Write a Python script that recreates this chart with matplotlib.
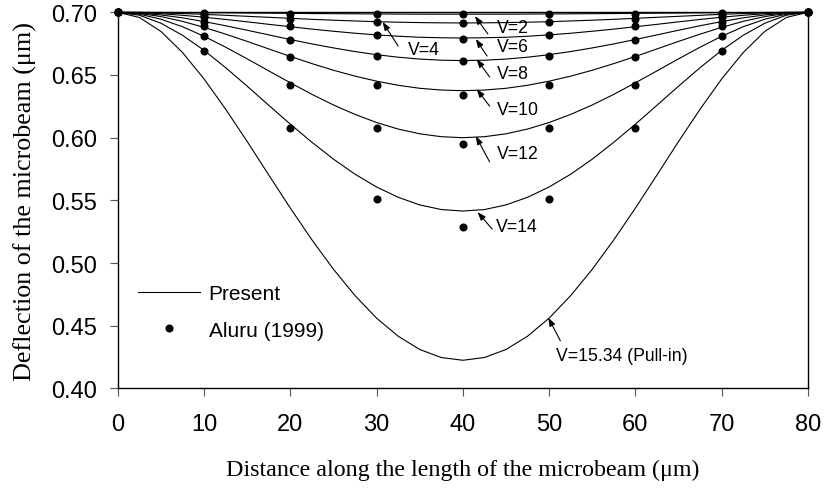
import matplotlib
matplotlib.use("Agg")
import matplotlib.pyplot as plt
from matplotlib.lines import Line2D

# position along the beam (um) for the computed curves
x_line = [0, 2.5, 5, 7.5, 10, 12.5, 15, 17.5, 20, 22.5, 25, 27.5, 30, 32.5, 35, 37.5, 40,
          42.5, 45, 47.5, 50, 52.5, 55, 57.5, 60, 62.5, 65, 67.5, 70, 72.5, 75, 77.5, 80]

# "Present" curves, deflection (um)
v2 = [0.7000, 0.7000, 0.6999, 0.6998, 0.6997, 0.6996, 0.6994, 0.6993, 0.6992, 0.6990, 0.6989,
      0.6988, 0.6987, 0.6986, 0.6985, 0.6985, 0.6985, 0.6985, 0.6985, 0.6986, 0.6987, 0.6988,
      0.6989, 0.6990, 0.6992, 0.6993, 0.6994, 0.6996, 0.6997, 0.6998, 0.6999, 0.7000, 0.7000]
v4 = [0.7000, 0.6999, 0.6995, 0.6990, 0.6984, 0.6976, 0.6968, 0.6960, 0.6952, 0.6944, 0.6937,
      0.6931, 0.6925, 0.6921, 0.6918, 0.6916, 0.6915, 0.6916, 0.6918, 0.6921, 0.6925, 0.6931,
      0.6937, 0.6944, 0.6952, 0.6960, 0.6968, 0.6976, 0.6984, 0.6990, 0.6995, 0.6999, 0.7000]
v6 = [0.7000, 0.6997, 0.6989, 0.6976, 0.6961, 0.6943, 0.6924, 0.6904, 0.6885, 0.6866, 0.6849,
      0.6833, 0.6820, 0.6809, 0.6801, 0.6797, 0.6795, 0.6797, 0.6801, 0.6809, 0.6820, 0.6833,
      0.6849, 0.6866, 0.6885, 0.6904, 0.6924, 0.6943, 0.6961, 0.6976, 0.6989, 0.6997, 0.7000]
v8 = [0.7000, 0.6994, 0.6979, 0.6956, 0.6926, 0.6893, 0.6857, 0.6820, 0.6783, 0.6748, 0.6716,
      0.6687, 0.6662, 0.6642, 0.6627, 0.6618, 0.6615, 0.6618, 0.6627, 0.6642, 0.6662, 0.6687,
      0.6716, 0.6748, 0.6783, 0.6820, 0.6857, 0.6893, 0.6926, 0.6956, 0.6979, 0.6994, 0.7000]
v10 = [0.7000, 0.6991, 0.6966, 0.6928, 0.6880, 0.6826, 0.6768, 0.6708, 0.6648, 0.6591, 0.6538,
       0.6491, 0.6451, 0.6418, 0.6394, 0.6380, 0.6375, 0.6380, 0.6394, 0.6418, 0.6451, 0.6491,
       0.6538, 0.6591, 0.6648, 0.6708, 0.6768, 0.6826, 0.6880, 0.6928, 0.6966, 0.6991, 0.7000]
v12 = [0.7000, 0.6985, 0.6945, 0.6885, 0.6809, 0.6722, 0.6629, 0.6533, 0.6438, 0.6346, 0.6261,
       0.6186, 0.6121, 0.6069, 0.6031, 0.6008, 0.6000, 0.6008, 0.6031, 0.6069, 0.6121, 0.6186,
       0.6261, 0.6346, 0.6438, 0.6533, 0.6629, 0.6722, 0.6809, 0.6885, 0.6945, 0.6985, 0.7000]
v14 = [0.7000, 0.6977, 0.6913, 0.6817, 0.6697, 0.6559, 0.6411, 0.6259, 0.6108, 0.5964, 0.5829,
       0.5709, 0.5607, 0.5525, 0.5464, 0.5427, 0.5415, 0.5427, 0.5464, 0.5525, 0.5607, 0.5709,
       0.5829, 0.5964, 0.6108, 0.6259, 0.6411, 0.6559, 0.6697, 0.6817, 0.6913, 0.6977, 0.7000]
v_pull = [0.7000, 0.6959, 0.6848, 0.6680, 0.6469, 0.6228, 0.5970, 0.5703, 0.5439, 0.5186, 0.4951,
          0.4741, 0.4561, 0.4417, 0.4311, 0.4247, 0.4225, 0.4247, 0.4311, 0.4417, 0.4561, 0.4741,
          0.4951, 0.5186, 0.5439, 0.5703, 0.5970, 0.6228, 0.6469, 0.6680, 0.6848, 0.6959, 0.7000]

# Aluru (1999) points
x_pts = [0, 10, 20, 30, 40, 50, 60, 70, 80]
a2 = [0.700, 0.6995, 0.699, 0.699, 0.6985, 0.699, 0.699, 0.6995, 0.700]
a4 = [0.700, 0.698, 0.695, 0.6925, 0.6915, 0.6925, 0.695, 0.698, 0.700]
a6 = [0.700, 0.696, 0.689, 0.682, 0.679, 0.682, 0.689, 0.696, 0.700]
a8 = [0.700, 0.6925, 0.678, 0.665, 0.661, 0.665, 0.678, 0.6925, 0.700]
a10 = [0.700, 0.689, 0.664, 0.642, 0.634, 0.642, 0.664, 0.689, 0.700]
a12 = [0.700, 0.681, 0.642, 0.608, 0.595, 0.608, 0.642, 0.681, 0.700]
a14 = [0.700, 0.669, 0.608, 0.551, 0.529, 0.551, 0.608, 0.669, 0.700]

curve_labels = ["V=2", "V=4", "V=6", "V=8", "V=10", "V=12", "V=14", "V=15.34 (Pull-in)"]

fig = plt.figure(figsize=(8.25, 4.89), dpi=100)
ax = fig.add_axes([0.1427, 0.2035, 0.8367, 0.7693])

for y in [v2, v4, v6, v8, v10, v12, v14, v_pull]:
    ax.plot(x_line, y, color="black", lw=0.8, clip_on=False)

for y in [a2, a4, a6, a8, a10, a12, a14]:
    ax.plot(x_pts, y, "o", color="black", ms=4.8, clip_on=False)

# label, arrow tip, arrow tail, text position
notes = [
    (curve_labels[0], (41.4, 0.6970), (42.9, 0.6827), (43.9, 0.6875)),
    (curve_labels[1], (30.7, 0.6923), (32.5, 0.6731), (33.6, 0.6702)),
    (curve_labels[2], (41.5, 0.6787), (42.8, 0.6651), (43.9, 0.6731)),
    (curve_labels[3], (41.6, 0.6627), (43.1, 0.6484), (43.9, 0.6508)),
    (curve_labels[4], (41.6, 0.6388), (43.1, 0.6252), (43.9, 0.6228)),
    (curve_labels[5], (41.5, 0.6013), (43.1, 0.5807), (43.9, 0.5877)),
    (curve_labels[6], (41.7, 0.5407), (43.4, 0.5271), (43.8, 0.5295)),
    (curve_labels[7], (49.9, 0.4565), (51.3, 0.4380), (50.8, 0.4260)),
]
for lab, tip, tail, tpos in notes:
    ax.annotate("", xy=tip, xytext=tail,
                arrowprops=dict(arrowstyle="-|>,head_length=0.5,head_width=0.18",
                                color="black", lw=0.8, shrinkA=0, shrinkB=0))
    ax.text(tpos[0], tpos[1], lab, ha="left", va="center", fontsize=12.7,
            family="Liberation Sans")

ax.set_xlim(0, 80)
ax.set_ylim(0.40, 0.70)
ax.set_xticks(range(0, 81, 10))
ax.set_yticks([0.40, 0.45, 0.50, 0.55, 0.60, 0.65, 0.70])
ax.set_yticklabels(["0.40", "0.45", "0.50", "0.55", "0.60", "0.65", "0.70"])
ax.tick_params(direction="out", length=6, width=0.8, color="#555555", labelsize=17)
ax.tick_params(axis="x", pad=12)
ax.tick_params(axis="y", pad=9)
for lbl in ax.get_xticklabels() + ax.get_yticklabels():
    lbl.set_family("Liberation Sans")
for sp in ax.spines.values():
    sp.set_linewidth(1.0)

ax.set_xlabel("Distance along the length of the microbeam (μm)", family="Liberation Serif",
              fontsize=17.3, labelpad=17)
ax.set_ylabel("Deflection of the microbeam (μm)", family="Liberation Serif",
              fontsize=18.8, labelpad=10)

handles = [Line2D([], [], color="black", lw=0.8),
           Line2D([], [], marker="o", ls="none", color="black", ms=4.8)]
leg = ax.legend(handles, ["Present", "Aluru (1999)"], loc="upper left",
                bbox_to_anchor=(0.029, 0.277), frameon=False, borderpad=0, borderaxespad=0,
                handlelength=3.0, handletextpad=0.4, labelspacing=0.84,
                prop={"family": "Liberation Sans", "size": 15})

fig.savefig("out.png", dpi=100)
